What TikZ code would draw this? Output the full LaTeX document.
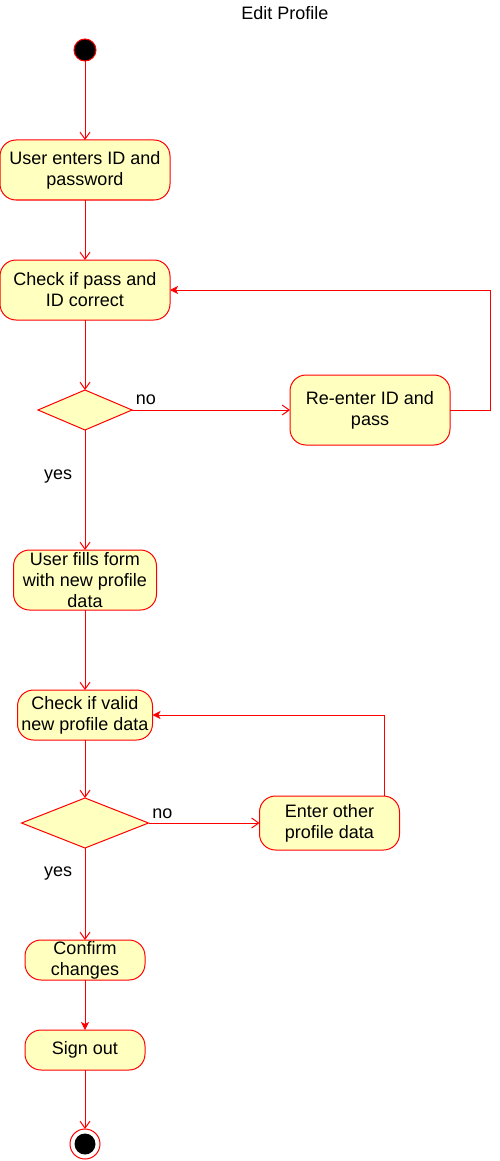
\documentclass[tikz,border=0pt]{standalone}
\usepackage{fontspec}
\setmainfont{Liberation Sans}
\usetikzlibrary{positioning}
\usetikzlibrary{shapes.geometric}
\usetikzlibrary{arrows.meta}
\definecolor{actfill}{RGB}{255,255,192}
\definecolor{actline}{RGB}{255,0,0}

\begin{document}
\begin{tikzpicture} [line width=1pt, font=\fontsize{18}{21}\selectfont,
        main/.style = {draw=actline, fill=actfill, rounded corners=16pt, align=center, inner sep=0pt, outer sep=0pt},
        decision/.style = {draw=actline, fill=actfill, diamond, inner sep=0pt, outer sep=0pt},
        start/.style = {draw=actline, fill=black, circle, minimum size=22pt, inner sep=0pt, outer sep=0pt},
        stop/.style = {draw=actline, circle, minimum size=30pt, inner sep=0pt, outer sep=0pt,
            path picture={\fill[black] (path picture bounding box.center) circle (10.5pt);}},
        flow/.style = {draw=actline, -{Straight Barb[length=7pt,width=10pt]}},
        back/.style = {draw=actline, -{Stealth[length=8pt,width=8pt,inset=2pt]}}]
        \useasboundingbox (0,0) rectangle (499pt,-1161pt);

        %Knoten
        \node (title) at (285pt,-13pt) {Edit Profile};
        \node[start] (init) at (85pt,-50pt) {};

        \node[main, minimum width=170pt, minimum height=60pt] (enter) [below = 79pt of init] {User enters ID and\\password};
        \node[main, minimum width=170pt, minimum height=60pt] (check) [below = 60pt of enter] {Check if pass and\\ID correct};

        \node[decision, minimum width=94pt, minimum height=40pt] (dia1) [below = 70pt of check] {};
        \node[main, minimum width=160pt, minimum height=70pt] (reenter) [right = 158pt of dia1] {Re-enter ID and\\pass};

        \node[main, minimum width=143pt, minimum height=60pt] (form) [below = 120pt of dia1] {User fills form\\with new profile\\data};
        \node[main, minimum width=135pt, minimum height=50pt] (valid) [below = 80pt of form] {Check if valid\\new profile data};

        \node[decision, minimum width=127pt, minimum height=50pt] (dia2) [below = 58pt of valid] {};
        \node[main, minimum width=140pt, minimum height=54pt] (other) [right = 111pt of dia2] {Enter other\\profile data};

        \node[main, minimum width=120pt, minimum height=40pt] (confirm) [below = 92pt of dia2] {Confirm\\changes};
        \node[main, minimum width=120pt, minimum height=40pt] (signout) [below = 50pt of confirm] {Sign out};

        \node[stop] (final) [below = 59pt of signout] {};

        %Kanten
        \draw[flow] (init) -- (enter);
        \draw[flow] (enter) -- (check);
        \draw[flow] (check) -- (dia1);

        \draw[flow] (dia1) -- (reenter) node[pos=0, above right, yshift=1pt] {no};
        \draw[back] (reenter.east) -- ++(40pt,0) |- (check.east);
        \draw[flow] (dia1) -- (form) node[pos=0.39, left=9pt] {yes};

        \draw[flow] (form) -- (valid);
        \draw[flow] (valid) -- (dia2);

        \draw[flow] (dia2) -- (other) node[pos=0, above right, yshift=1pt] {no};
        \draw[back] ([xshift=55pt]other.north) |- (valid.east);
        \draw[flow] (dia2) -- (confirm) node[pos=0.28, left=9pt] {yes};

        \draw[back] (confirm) -- (signout);
        \draw[flow] (signout) -- (final);

    \end{tikzpicture}
\end{document}
